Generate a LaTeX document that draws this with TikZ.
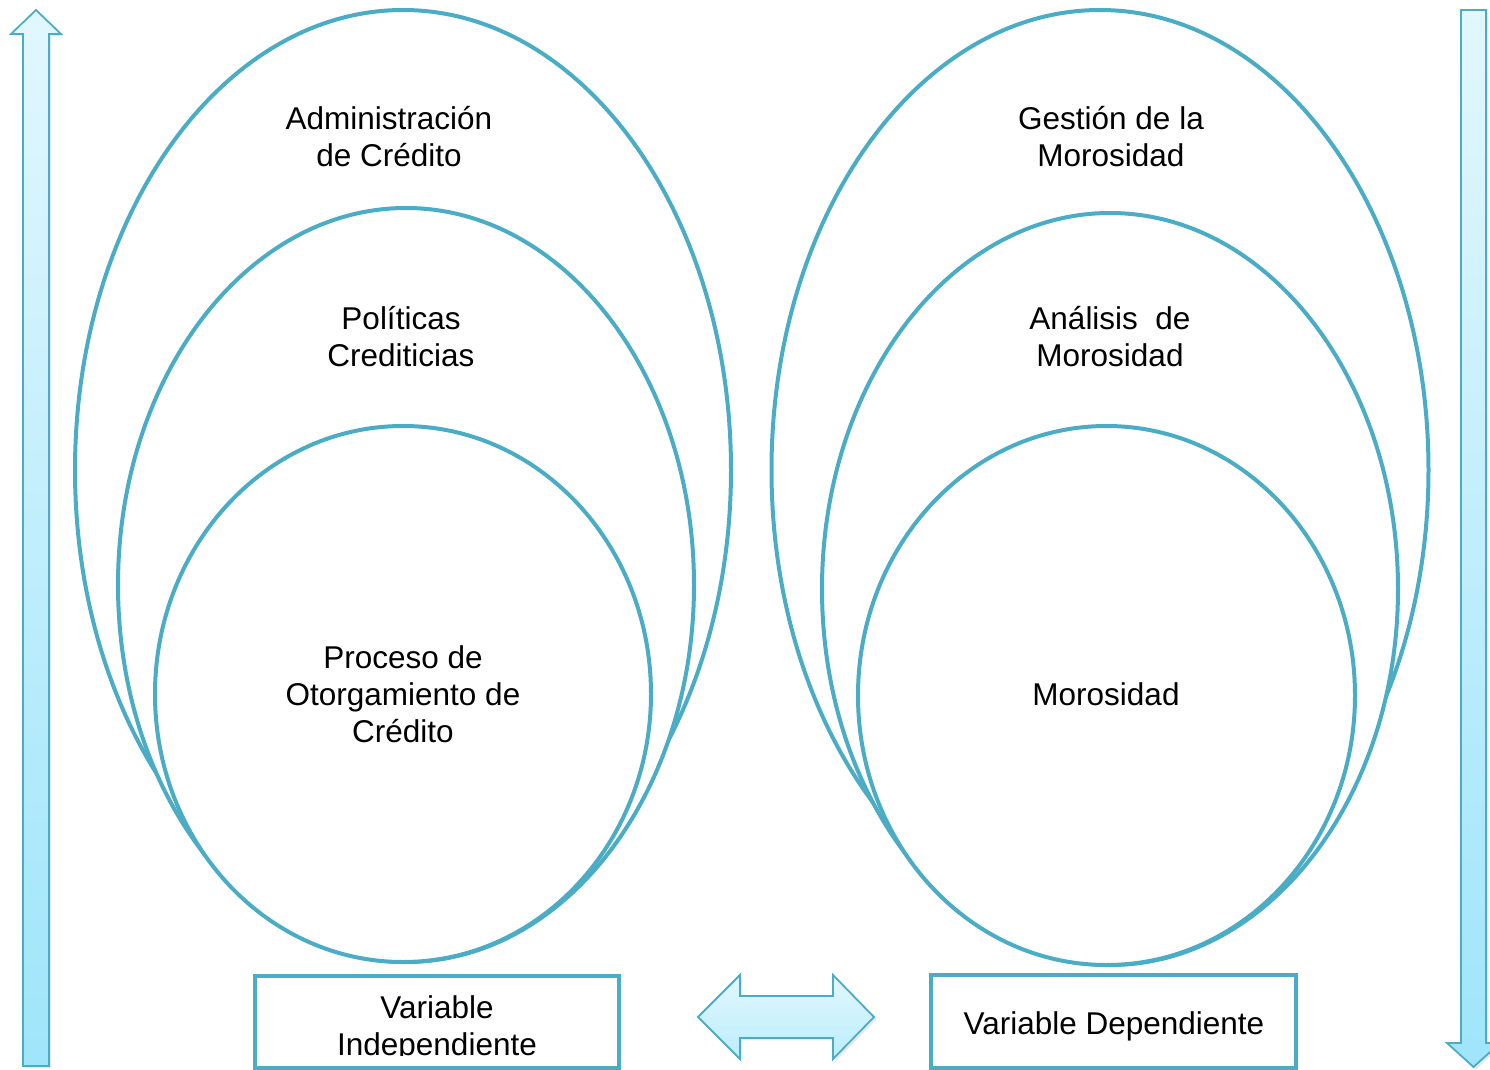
\documentclass[tikz,border=0pt]{standalone}
\usepackage{fontspec}
\setmainfont{Liberation Sans}
\usetikzlibrary{shapes.geometric,shadows}

\definecolor{aqua}{HTML}{4BACC6}
\definecolor{arrowtop}{HTML}{E2F7FE}
\definecolor{arrowbot}{HTML}{9FE5FA}
\definecolor{dbltop}{HTML}{E2F7FE}
\definecolor{dblbot}{HTML}{BAEEFC}

\begin{document}
\begin{tikzpicture}[x=0.5pt,y=-0.5pt,
  ring/.style={ellipse, draw=aqua, line width=2pt, fill=white, inner sep=0pt},
  lbl/.style={font=\fontsize{15.75pt}{18.5pt}\selectfont, align=center, inner sep=0pt, text=black},
  varbox/.style={rectangle, draw=aqua, line width=2.25pt, fill=white, inner sep=0pt},
  blockarrow/.style={draw=aqua, line width=0.9pt, line join=miter,
    drop shadow={opacity=0.18, shadow xshift=1.2pt, shadow yshift=-1.2pt}},
]
\useasboundingbox (0,0) rectangle (1490,1070);
\clip (0,0) rectangle (1490,1070);

% vertical block arrows at the sides
\draw[blockarrow, top color=arrowtop, bottom color=arrowbot]
  (23,1066) -- (23,34) -- (11,34) -- (36,10) -- (61,34) -- (49,34) -- (49,1066) -- cycle;
\draw[blockarrow, top color=arrowtop, bottom color=arrowbot]
  (1461,10) -- (1486,10) -- (1486,1043) -- (1500,1043) -- (1473.5,1067)
  -- (1447,1043) -- (1461,1043) -- cycle;

% nested ellipses, left group
\node[ring, minimum width=328pt, minimum height=460pt] (admin) at (403,470) {};
\node[ring, minimum width=288pt, minimum height=377pt] (polit) at (406,585) {};
\node[ring, minimum width=248pt, minimum height=268pt] (proc)  at (403,694) {};

% nested ellipses, right group
\node[ring, minimum width=328.5pt, minimum height=460pt] (gest) at (1100,470) {};
\node[ring, minimum width=288pt, minimum height=376pt] (anal) at (1110,589) {};
\node[ring, minimum width=248.5pt, minimum height=269.5pt] (moro) at (1106.5,695.5) {};

% labels
\node[lbl] (tadmin) at (389,137) {Administración\\de Crédito};
\node[lbl] (tpolit) at (401,337) {Políticas\\Crediticias};
\node[lbl] (tproc)  at (403,694) {Proceso de\\Otorgamiento de\\Crédito};
\node[lbl] (tgest)  at (1111,137) {Gestión de la\\Morosidad};
\node[lbl] (tanal)  at (1110,337) {Análisis\ \ de\\Morosidad};
\node[lbl] (tmoro)  at (1106,694) {Morosidad};

% variable boxes
\node[varbox, minimum width=182pt, minimum height=46pt] (vi) at (437,1022) {};
\begin{scope}
  \clip (259,979) rectangle (615,1055);
  \node[lbl] (tvi) at (437,1029) {Variable\\Independiente};
\end{scope}
\node[varbox, minimum width=182.5pt, minimum height=46.5pt] (vd) at (1113.5,1021.5) {};
\node[lbl] (tvd) at (1114,1026) {Variable Dependiente};

% double block arrow between the boxes
\draw[blockarrow, top color=dbltop, bottom color=dblbot]
  (698,1017) -- (740,975) -- (740,996) -- (833,996) -- (833,975) -- (874,1017)
  -- (833,1059) -- (833,1038) -- (740,1038) -- (740,1059) -- cycle;
\end{tikzpicture}
\end{document}
